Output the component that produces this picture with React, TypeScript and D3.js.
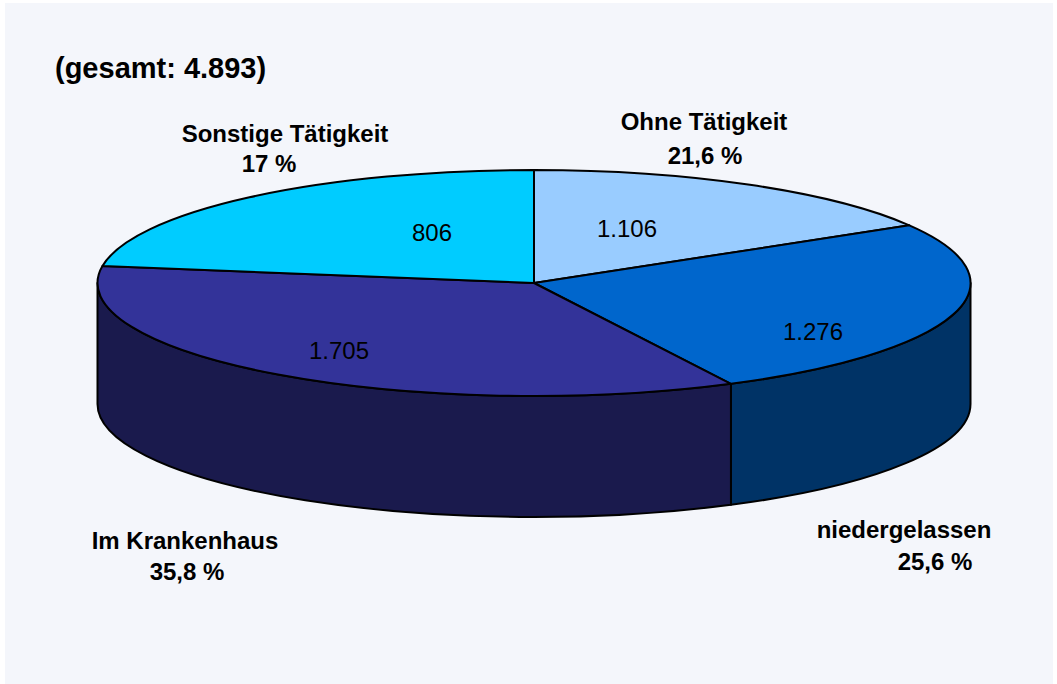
import React from "react";
import * as d3 from "d3";

const sliceNames = ["Ohne Tätigkeit", "niedergelassen", "Im Krankenhaus", "Sonstige Tätigkeit"];
const sliceValues = [806, 1276, 1705, 1106];
const sliceLabels = ["1.106", "1.276", "1.705", "806"];
const slicePercents = ["21,6 %", "25,6 %", "35,8 %", "17 %"];
const topColors = ["#99ccff", "#0066cc", "#333399", "#00ccff"];
const sideColors = ["#003366", "#003366", "#1a1a4d", "#1a1a4d"];
const totalLabel = "(gesamt: 4.893)";

const W = 1057, H = 684;
const cx = 534, cy = 283, rx = 436.5, ry = 113, depth = 121;
const font = "'Liberation Sans', Arial, sans-serif";

const sx = d3.scaleLinear().domain([-1, 1]).range([cx - rx, cx + rx]);
const sy = d3.scaleLinear().domain([-1, 1]).range([cy - ry, cy + ry]);

const arcs = d3.pie<number>().sort(null)(sliceValues);
const px = (a: number) => sx(Math.sin(a));
const py = (a: number) => sy(-Math.cos(a));

function topPath(a0: number, a1: number) {
  const large = a1 - a0 > Math.PI ? 1 : 0;
  return `M${cx},${cy}L${px(a0)},${py(a0)}A${rx},${ry} 0 ${large} 1 ${px(a1)},${py(a1)}Z`;
}
function sidePath(a0: number, a1: number) {
  const s = Math.max(a0, Math.PI / 2), e = Math.min(a1, (3 * Math.PI) / 2);
  if (e <= s) return null;
  return `M${px(s)},${py(s)}A${rx},${ry} 0 0 1 ${px(e)},${py(e)}L${px(e)},${py(e) + depth}A${rx},${ry} 0 0 0 ${px(s)},${py(s) + depth}Z`;
}

const dataLabelPos = [[627, 229], [813, 332], [339, 351], [432, 233]];
const nameLabelPos = [
  [704, 130, 705, 164],
  [904, 538, 935, 570],
  [185, 549, 187, 580],
  [285, 142, 269, 172],
];

export default function App() {
  return (
    <svg width={W} height={H} viewBox={`0 0 ${W} ${H}`} style={{ position: "absolute", left: 0, top: 0, display: "block", background: "#fff" }}>
      <rect x={5} y={3} width={1048} height={681} fill="#f4f6fb" />
      <text x={55} y={78} fontFamily={font} fontWeight="bold" fontSize={29} fill="#000">{totalLabel}</text>
      {arcs.map((a, i) => {
        const d = sidePath(a.startAngle, a.endAngle);
        return d ? <path key={i} d={d} fill={sideColors[i]} stroke="#000" strokeWidth={2} strokeLinejoin="round" /> : null;
      })}
      {arcs.map((a, i) => (
        <path key={i} d={topPath(a.startAngle, a.endAngle)} fill={topColors[i]} stroke="#000" strokeWidth={2} strokeLinejoin="round" />
      ))}
      {sliceLabels.map((t, i) => (
        <text key={t} x={dataLabelPos[i][0]} y={dataLabelPos[i][1]} dy="0.35em" textAnchor="middle" fontFamily={font} fontSize={24} fill="#000">{t}</text>
      ))}
      {sliceNames.map((n, i) => (
        <g key={n} fontFamily={font} fontWeight="bold" fontSize={24} fill="#000" textAnchor="middle">
          <text x={nameLabelPos[i][0]} y={nameLabelPos[i][1]}>{n}</text>
          <text x={nameLabelPos[i][2]} y={nameLabelPos[i][3]}>{slicePercents[i]}</text>
        </g>
      ))}
    </svg>
  );
}
